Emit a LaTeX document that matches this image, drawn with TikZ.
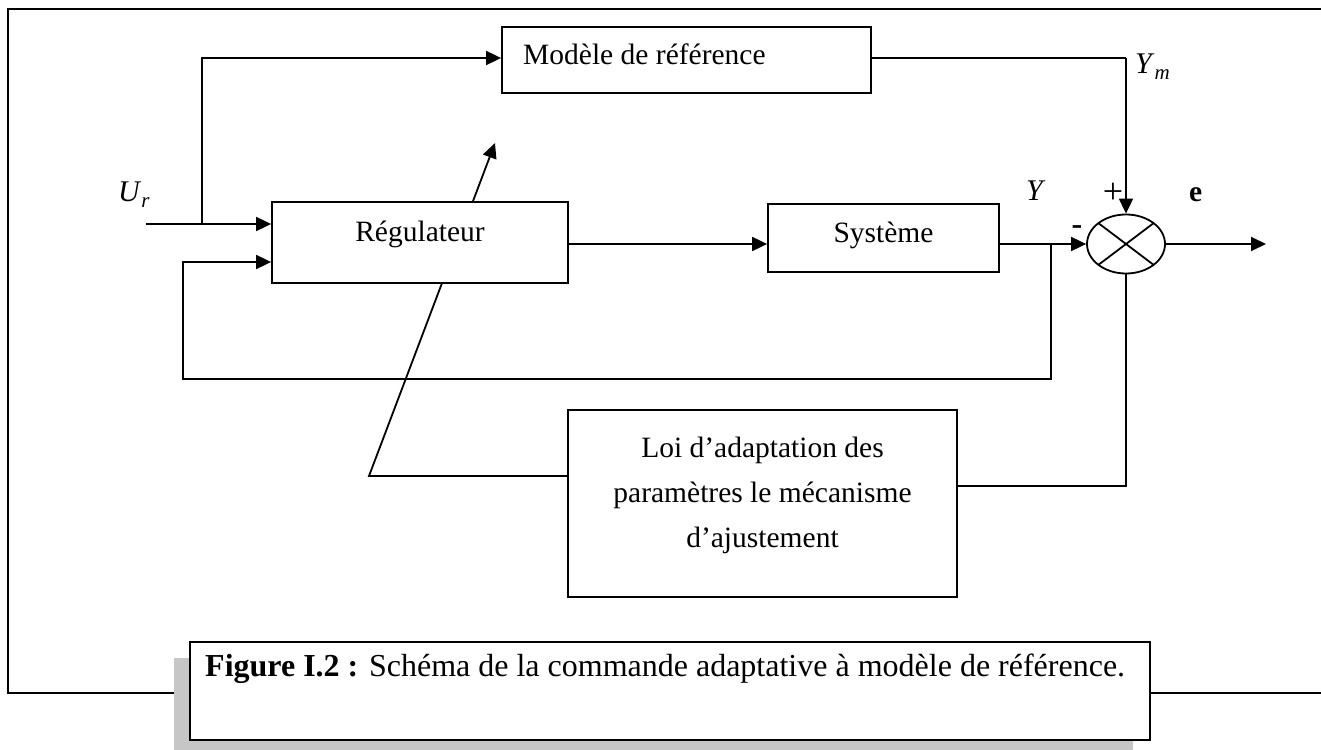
\documentclass[tikz,border=0pt]{standalone}
\usepackage{fontspec}
\setmainfont{Liberation Serif}
\usetikzlibrary{arrows.meta,shapes.geometric}

% text sizes of the scheme and of its caption
\newcommand\dfont{\fontsize{29.5}{35}\selectfont}
\newcommand\cfont{\fontsize{32}{38}\selectfont}
% italic signal name with an italic index
\newcommand\signame[2]{\textit{#1}\raisebox{-6pt}{\fontsize{21}{24}\selectfont\textit{#2}}}

\tikzset{
  blockbox/.style={draw, line width=1.8pt, fill=white, inner sep=0pt},
  wire/.style={line width=1.8pt},
  arr/.style={wire, -{Triangle[length=15pt,width=14pt]}},
  txt/.style={font=\dfont, inner sep=0pt},
  sigtxt/.style={font=\fontsize{30}{35}\selectfont, inner sep=0pt},
  framebox/.style={line width=2.4pt},
}

\begin{document}
\begin{tikzpicture}[x=1pt,y=-1pt]
\useasboundingbox (0,0) rectangle (1321,749);

% page frame around the scheme
\draw[framebox] (1321,9) -- (8,9) -- (8,693) -- (1321,693);

% blocks
\node[blockbox, minimum width=369pt, minimum height=66pt] (mod) at (686.5,60) {};
\node[txt, anchor=base west] (modt) at (523,65) {Modèle de référence};

\node[blockbox, minimum width=231pt, minimum height=68pt] (sys) at (883.5,238) {};
\node[txt, anchor=base] (syst) at (883.5,242) {Système};

\node[blockbox, minimum width=389pt, minimum height=187pt] (loi) at (762.5,503.5) {};
\node[txt, anchor=base] (loit1) at (762.5,457) {Loi d’adaptation des};
\node[txt, anchor=base] (loit2) at (762.5,502) {paramètres le mécanisme};
\node[txt, anchor=base] (loit3) at (762.5,547) {d’ajustement};

% summing junction
\node[draw, line width=1.8pt, ellipse, inner sep=0pt,
      minimum width=78pt, minimum height=59pt] (sum) at (1126,244) {};
\draw[wire] ([shift={(sum.center)}]135:39 and 29.5) -- ([shift={(sum.center)}]-45:39 and 29.5);
\draw[wire] ([shift={(sum.center)}]225:39 and 29.5) -- ([shift={(sum.center)}]45:39 and 29.5);

% points of the wiring
\coordinate (urin)  at (146,224);
\coordinate (split) at (202,224);
\coordinate (mtop)  at (202,58);
\coordinate (ymc)   at (1126,58);
\coordinate (tap)   at (1051,244);
\coordinate (fbl)   at (183,379);
\coordinate (fbin)  at (183,262);
\coordinate (eout)  at (1266,244);
\coordinate (loirt) at (1126,486);
\coordinate (adjl)  at (369,476);
\coordinate (adjtip) at (495,143);

% adjustment arrow through the controller (hidden by its box)
\draw[arr] (loi.west |- adjl) -- (adjl) -- (adjtip);

% controller block, drawn over the adjustment arrow
\node[blockbox, minimum width=296pt, minimum height=81pt] (reg) at (420,242.5) {};
\node[txt, anchor=base] (regt) at (420,241) {Régulateur};

% signal wiring
\draw[arr] (urin) -- (reg.west |- urin);
\draw[arr] (split) -- (mtop) -- (mod.west |- mtop);
\draw[wire] (mod.east |- mtop) -- (ymc);
\draw[arr] (ymc) -- (sum.north);
\draw[arr] (reg.east |- sum) -- (sys.west |- sum);
\draw[arr] (sys.east |- sum) -- (sum.west);
\draw[arr] (tap) |- (fbl) -- (fbin) -- (reg.west |- fbin);
\draw[arr] (sum.east) -- (eout);
\draw[wire] (sum.south) -- (loirt) -- (loi.east |- loirt);

% signal labels
\node[sigtxt, anchor=base west] (lur) at (118,201) {\signame{U}{r}};
\node[sigtxt, anchor=base west] (ly)  at (1026,200) {\textit{Y}};
\node[sigtxt, anchor=base west] (lym) at (1135,74) {\signame{Y}{m}};
\node[font=\fontsize{36}{40}\selectfont, inner sep=0pt] (lplus)  at (1113,193) {+};
\node[txt, anchor=base west] (le) at (1189,201) {\textbf{e}};
\node[font=\fontsize{32}{36}\selectfont, inner sep=0pt] (lminus) at (1077,230) {\textbf{-}};

% caption with its shadow
\fill[gray!45] (174,658) rectangle (1133,756);
\node[draw, line width=1.8pt, fill=white, inner sep=0pt,
      minimum width=960pt, minimum height=98pt] (cap) at (670,691) {};
\node[font=\cfont, inner sep=0pt, anchor=base west] (capt) at (205,676)
  {\textbf{Figure I.2 :} Schéma de la commande adaptative à modèle de référence.};
\end{tikzpicture}
\end{document}
